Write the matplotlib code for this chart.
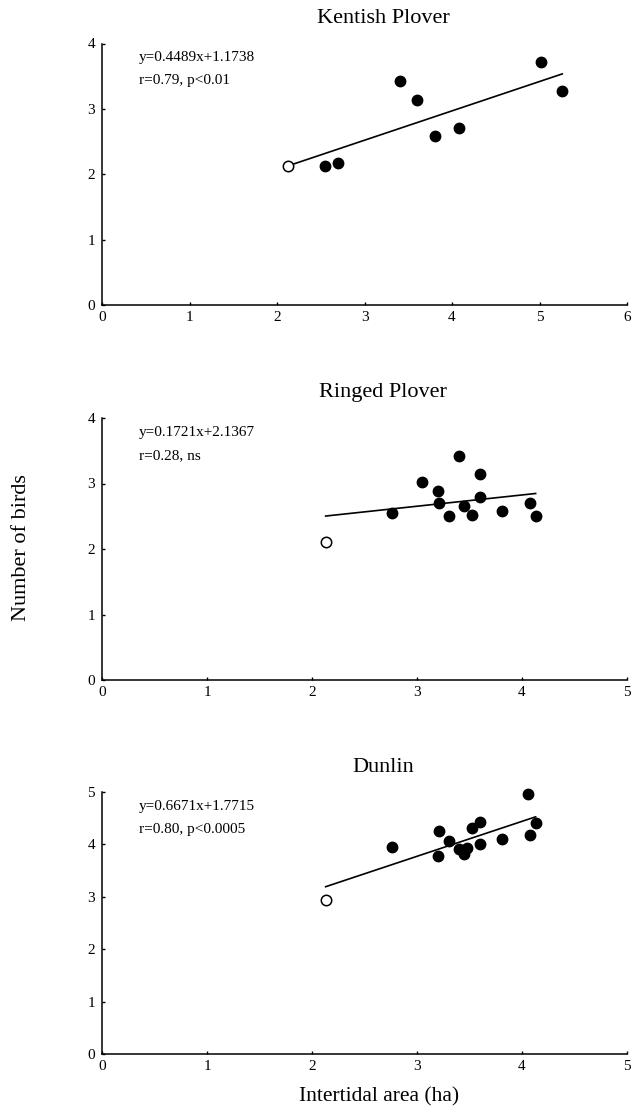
import matplotlib
matplotlib.use("Agg")
import numpy as np
import matplotlib.pyplot as plt

plt.rcParams["font.family"] = ["Liberation Serif", "DejaVu Serif"]

# Kentish Plover
kp_x = [2.55, 2.70, 3.40, 3.60, 3.81, 4.08, 5.02, 5.26]
kp_y = [2.12, 2.17, 3.42, 3.14, 2.58, 2.70, 3.71, 3.27]
kp_open = (2.13, 2.12)
kp_fit = (0.4489, 1.1738)
kp_text = ["y=0.4489x+1.1738", "r=0.79, p<0.01"]

# Ringed Plover
rp_x = [2.76, 3.05, 3.20, 3.21, 3.30, 3.40, 3.45, 3.52, 3.60, 3.60, 3.81, 4.08, 4.13]
rp_y = [2.55, 3.02, 2.89, 2.70, 2.50, 3.42, 2.65, 2.52, 3.14, 2.80, 2.58, 2.70, 2.50]
rp_open = (2.13, 2.11)
rp_fit = (0.1721, 2.1367)
rp_text = ["y=0.1721x+2.1367", "r=0.28, ns"]

# Dunlin
du_x = [2.76, 3.21, 3.20, 3.30, 3.40, 3.45, 3.48, 3.52, 3.60, 3.60, 3.81, 4.06, 4.08, 4.13]
du_y = [3.95, 4.25, 3.77, 4.07, 3.91, 3.82, 3.94, 4.31, 4.43, 4.00, 4.10, 4.96, 4.17, 4.40]
du_open = (2.13, 2.93)
du_fit = (0.6671, 1.7715)
du_text = ["y=0.6671x+1.7715", "r=0.80, p<0.0005"]


def plot_panel(ax, x, y, open_pt, fit, text, xmax, ymax):
    """
    Scatter with fitted line, open circle for the excluded site.
    """
    ax.plot(x, y, "o", color="black", markersize=7.5, zorder=3,
            clip_on=False)
    ax.plot(
        open_pt[0], open_pt[1], "o",
        markerfacecolor="white", markeredgecolor="black",
        markersize=7.5, markeredgewidth=1.1, zorder=4, clip_on=False
    )

    # Regression line over the range of all points
    xs = np.array([min(x + [open_pt[0]]), max(x)])
    ax.plot(xs, fit[0] * xs + fit[1], color="black", linewidth=1.2, zorder=2)

    ax.text(0.0706, 0.945, text[0], transform=ax.transAxes,
            fontsize=11, va="center", ha="left")
    ax.text(0.0706, 0.858, text[1], transform=ax.transAxes,
            fontsize=11, va="center", ha="left")

    ax.set_xlim(0, xmax)
    ax.set_ylim(0, ymax)
    ax.set_xticks(range(0, xmax + 1))
    ax.set_yticks(range(0, ymax + 1))

    ax.spines["top"].set_visible(False)
    ax.spines["right"].set_visible(False)
    ax.spines["left"].set_linewidth(1.1)
    ax.spines["bottom"].set_linewidth(1.1)

    ax.tick_params(axis="both", direction="in", length=2.5, width=1,
                   labelsize=11)
    ax.tick_params(axis="x", pad=4)
    ax.tick_params(axis="y", pad=5)


fig = plt.figure(figsize=(6.32, 11.18), dpi=100)

left = 102 / 632
width = 525 / 632

ax1 = fig.add_axes([left, 1 - 305 / 1118, width, 261.5 / 1118])
ax2 = fig.add_axes([left, 1 - 680 / 1118, width, 262 / 1118])
ax3 = fig.add_axes([left, 1 - 1054 / 1118, width, 262 / 1118])

plot_panel(ax1, kp_x, kp_y, kp_open, kp_fit, kp_text, 6, 4)
plot_panel(ax2, rp_x, rp_y, rp_open, rp_fit, rp_text, 5, 4)
plot_panel(ax3, du_x, du_y, du_open, du_fit, du_text, 5, 5)

fig.text(0.606, 1 - 18.5 / 1118, "Kentish Plover", fontsize=16,
         ha="center", va="center")
fig.text(0.606, 1 - 392 / 1118, "Ringed Plover", fontsize=16,
         ha="center", va="center")
fig.text(0.606, 1 - 767 / 1118, "Dunlin", fontsize=16,
         ha="center", va="center")

fig.text(379 / 632, 1 - 1097 / 1118, "Intertidal area (ha)", fontsize=15.5,
         ha="center", va="center")
fig.text(22 / 632, 1 - 548 / 1118, "Number of birds", fontsize=16,
         ha="center", va="center", rotation=90)

plt.savefig("out.png", dpi=100)
plt.close()
